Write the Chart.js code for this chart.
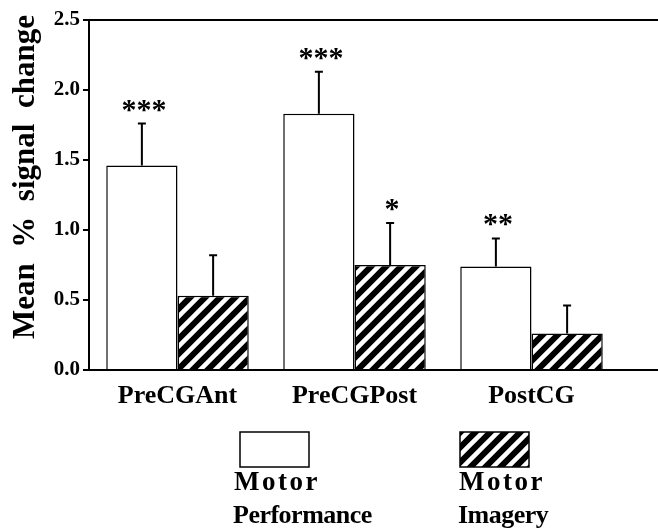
<!DOCTYPE html>
<html>
<head>
<meta charset="utf-8">
<script src="https://cdn.jsdelivr.net/npm/chart.js@4.4.1/dist/chart.umd.min.js"></script>
<style>
  html, body { margin: 0; padding: 0; background: #fff; }
  #wrap { width: 658px; height: 531px; position: relative; }
</style>
</head>
<body>
<div id="wrap"><canvas id="barChart"></canvas></div>
<script>
const categories = ['PreCGAnt', 'PreCGPost', 'PostCG'];
const performance = [1.46, 1.83, 0.74];
const performanceErr = [0.30, 0.30, 0.20];
const performanceStars = ['***', '***', '**'];
const imagery = [0.53, 0.75, 0.26];
const imageryErr = [0.29, 0.30, 0.20];
const imageryStars = ['', '*', ''];
const yTicks = [0, 0.5, 1.0, 1.5, 2.0, 2.5];

const SERIF = "'Liberation Serif', 'DejaVu Serif', serif";

// diagonal hatch "/" black and white
function makeHatch() {
    const s = 15;
    const c = document.createElement('canvas');
    c.width = s; c.height = s;
    const g = c.getContext('2d');
    g.fillStyle = '#000';
    g.fillRect(0, 0, s, s);
    g.strokeStyle = '#fff';
    g.lineWidth = 4.5;
    g.beginPath();
    g.moveTo(0, s); g.lineTo(s, 0);
    g.moveTo(-s / 2, s / 2); g.lineTo(s / 2, -s / 2);
    g.moveTo(s / 2, s * 1.5); g.lineTo(s * 1.5, s / 2);
    g.stroke();
    return g.createPattern(c, 'repeat');
}
const hatch = makeHatch();

const extras = {
    id: 'extras',
    afterDatasetsDraw(chart) {
        const ctx = chart.ctx;
        const y = chart.scales.y;
        const errs = [performanceErr, imageryErr];
        const stars = [performanceStars, imageryStars];
        ctx.save();
        ctx.strokeStyle = '#000';
        ctx.fillStyle = '#000';
        ctx.lineWidth = 2;
        chart.data.datasets.forEach((ds, di) => {
            chart.getDatasetMeta(di).data.forEach((bar, i) => {
                const top = y.getPixelForValue(ds.data[i] + errs[di][i]);
                ctx.beginPath();
                ctx.moveTo(bar.x, bar.y);
                ctx.lineTo(bar.x, top);
                ctx.moveTo(bar.x - 4, top);
                ctx.lineTo(bar.x + 4, top);
                ctx.stroke();
                if (stars[di][i]) {
                    ctx.font = "bold 30px " + SERIF;
                    ctx.textAlign = 'center';
                    ctx.textBaseline = 'alphabetic';
                    ctx.fillText(stars[di][i], bar.x + 2, top - 5);
                }
            });
        });
        ctx.restore();
    },
    afterDraw(chart) {
        const ctx = chart.ctx;
        const y = chart.scales.y;
        const area = chart.chartArea;
        ctx.save();
        // top and bottom frame lines run to the right edge
        ctx.strokeStyle = '#000';
        ctx.lineWidth = 2;
        [0, 2.5].forEach(v => {
            const py = y.getPixelForValue(v);
            ctx.beginPath();
            ctx.moveTo(area.left, py);
            ctx.lineTo(chart.width, py);
            ctx.stroke();
        });

        // y title
        ctx.fillStyle = '#000';
        ctx.font = "bold 31px " + SERIF;
        ctx.textAlign = 'center';
        ctx.textBaseline = 'middle';
        ctx.translate(26, 177);
        ctx.rotate(-Math.PI / 2);
        ctx.fillText('Mean  %  signal  change', 0, 0);
        ctx.setTransform(1, 0, 0, 1, 0, 0);

        // legend
        const items = [{ x: 240, tx: 234 }, { x: 460, tx: 459 }];
        chart.data.datasets.forEach((ds, di) => {
            const it = items[di];
            ctx.fillStyle = ds.backgroundColor;
            ctx.fillRect(it.x, 432, 69, 35);
            ctx.lineWidth = 1.5;
            ctx.strokeStyle = '#000';
            ctx.strokeRect(it.x, 432, 69, 35);
            ctx.fillStyle = '#000';
            ctx.textAlign = 'left';
            ctx.textBaseline = 'alphabetic';
            const words = ds.label.split(' ');
            ctx.font = "bold 27px " + SERIF;
            ctx.letterSpacing = '2.5px';
            ctx.fillText(words[0], it.tx, 490);
            ctx.font = "bold 26px " + SERIF;
            ctx.letterSpacing = '-0.5px';
            ctx.fillText(words[1], it.tx - 1, 523);
        });
        ctx.restore();
    }
};

new Chart(document.getElementById('barChart'), {
    type: 'bar',
    data: {
        labels: categories,
        datasets: [{
            label: 'Motor Performance',
            data: performance,
            backgroundColor: '#fff',
            borderColor: '#000',
            borderWidth: 1.5,
            barPercentage: 1.0,
            categoryPercentage: 0.805
        }, {
            label: 'Motor Imagery',
            data: imagery,
            backgroundColor: hatch,
            borderColor: '#000',
            borderWidth: 1.5,
            barPercentage: 1.0,
            categoryPercentage: 0.805
        }]
    },
    options: {
        responsive: true,
        maintainAspectRatio: false,
        animation: false,
        layout: { padding: { top: 20, right: 38, left: 0, bottom: 0 } },
        plugins: { legend: { display: false }, tooltip: { enabled: false } },
        scales: {
            x: {
                grid: { display: false },
                border: { display: false },
                ticks: { color: '#000', padding: 3, font: { family: SERIF, size: 26, weight: 'bold' } },
                afterFit(s) { s.height = 161; }
            },
            y: {
                min: 0, max: 2.5,
                afterBuildTicks(s) { s.ticks = yTicks.map(v => ({ value: v })); },
                grid: { drawOnChartArea: false, tickLength: 6, color: '#000', lineWidth: 2 },
                border: { color: '#000', width: 2 },
                ticks: {
                    color: '#000', padding: 3,
                    font: { family: SERIF, size: 21, weight: 'bold' },
                    callback: v => v.toFixed(1)
                },
                afterFit(s) { s.width = 89; }
            }
        }
    },
    plugins: [extras]
});
</script>
</body>
</html>
